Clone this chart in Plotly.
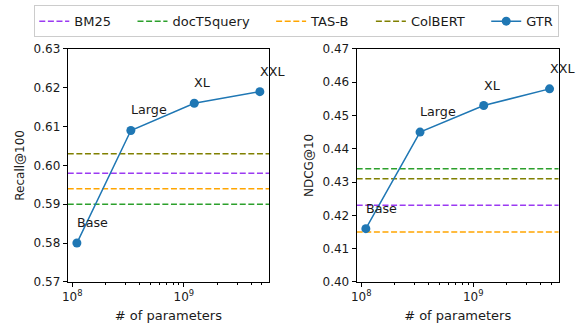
import numpy as np
import plotly.graph_objects as go

# ---- data ----
model_names = ["Base", "Large", "XL", "XXL"]
num_params = [110e6, 335e6, 1.24e9, 4.8e9]
gtr_recall = [0.580, 0.609, 0.616, 0.619]
gtr_ndcg = [0.416, 0.445, 0.453, 0.458]

baseline_names = ["BM25", "docT5query", "TAS-B", "ColBERT"]
baseline_recall = [0.598, 0.590, 0.594, 0.603]
baseline_ndcg = [0.423, 0.434, 0.415, 0.431]
baseline_colors = ["#9b3af2", "#2ca02c", "#ffa500", "#808000"]
gtr_color = "#1f77b4"

recall_ticks = [0.57, 0.58, 0.59, 0.60, 0.61, 0.62, 0.63]
ndcg_ticks = [0.40, 0.41, 0.42, 0.43, 0.44, 0.45, 0.46, 0.47]

# x range: matplotlib-like 5% margin in log space
lg = np.log10(num_params)
span = lg.max() - lg.min()
xr = [lg.min() - 0.05 * span, lg.max() + 0.05 * span]
x_ends = [10 ** xr[0], 10 ** xr[1]]

FONT = "DejaVu Sans"
TXT = "#1a1a1a"
PAD = "\u00a0" * 4  # legend column spacing
fig = go.Figure()

panels = [("x", "y", baseline_recall, gtr_recall), ("x2", "y2", baseline_ndcg, gtr_ndcg)]
for pi, (xa, ya, bvals, gvals) in enumerate(panels):
    for name, val, col in zip(baseline_names, bvals, baseline_colors):
        fig.add_trace(go.Scatter(
            x=x_ends, y=[val, val], mode="lines", name=name + PAD,
            line=dict(color=col, width=1.5, dash="6px,2.6px"),
            xaxis=xa, yaxis=ya, showlegend=(pi == 0), legendgroup=name,
            hoverinfo="skip"))
    fig.add_trace(go.Scatter(
        x=num_params, y=gvals, mode="lines+markers", name="GTR",
        line=dict(color=gtr_color, width=1.5),
        marker=dict(color=gtr_color, size=9),
        xaxis=xa, yaxis=ya, showlegend=(pi == 0), legendgroup="GTR",
        cliponaxis=False))
    for nm, xv, yv in zip(model_names, num_params, gvals):
        fig.add_annotation(x=np.log10(xv), y=yv, xref=xa, yref=ya, text=nm,
                           showarrow=False, xanchor="left", yanchor="bottom",
                           xshift=-2, yshift=11,
                           font=dict(family=FONT, size=12.7, color=TXT))

minor_vals = [k * 1e8 for k in range(2, 10)] + [k * 1e9 for k in range(2, 6)]
xcommon = dict(
    type="log", range=xr, showline=True, mirror=True, linecolor="black", linewidth=1,
    ticks="outside", ticklen=4, tickwidth=1, tickcolor="black",
    tickvals=[1e8, 1e9], ticktext=["10<sup>8</sup>", "10<sup>9</sup>"],
    minor=dict(tickvals=minor_vals, ticks="outside", ticklen=2, tickcolor="black", tickwidth=0.8),
    showgrid=False, zeroline=False, automargin=False,
    tickfont=dict(family=FONT, size=12, color=TXT),
    title=dict(text="# of parameters", font=dict(family=FONT, size=13, color=TXT), standoff=7),
)
ycommon = dict(
    showline=True, mirror=True, linecolor="black", linewidth=1,
    ticks="outside", ticklen=4, tickwidth=1, tickcolor="black",
    showgrid=False, zeroline=False, tickformat=".2f", automargin=False,
    tickfont=dict(family=FONT, size=12, color=TXT),
)

fig.update_layout(
    width=579, height=324,
    margin=dict(l=0, r=0, t=0, b=0, autoexpand=False),
    paper_bgcolor="white", plot_bgcolor="white",
    xaxis=dict(domain=[0.117, 0.4646], anchor="y", **xcommon),
    xaxis2=dict(domain=[0.616, 0.965], anchor="y2", **xcommon),
    yaxis=dict(domain=[0.130, 0.849], anchor="x", range=[0.57, 0.63], tickvals=recall_ticks,
               title=dict(text="Recall@100", font=dict(family=FONT, size=12, color=TXT), standoff=6),
               **ycommon),
    yaxis2=dict(domain=[0.130, 0.849], anchor="x2", range=[0.40, 0.47], tickvals=ndcg_ticks,
                title=dict(text="NDCG@10", font=dict(family=FONT, size=12, color=TXT), standoff=6),
                **ycommon),
    legend=dict(orientation="h", x=0.0592, y=0.984, xanchor="left", yanchor="top",
                bordercolor="#cccccc", borderwidth=1, bgcolor="white",
                font=dict(family=FONT, size=13, color=TXT),
                itemwidth=30, tracegroupgap=0),
    showlegend=True,
)

fig.write_html("out.html", config={"displayModeBar": False},
               post_script="document.body.style.margin='0';document.body.style.overflow='hidden';")
